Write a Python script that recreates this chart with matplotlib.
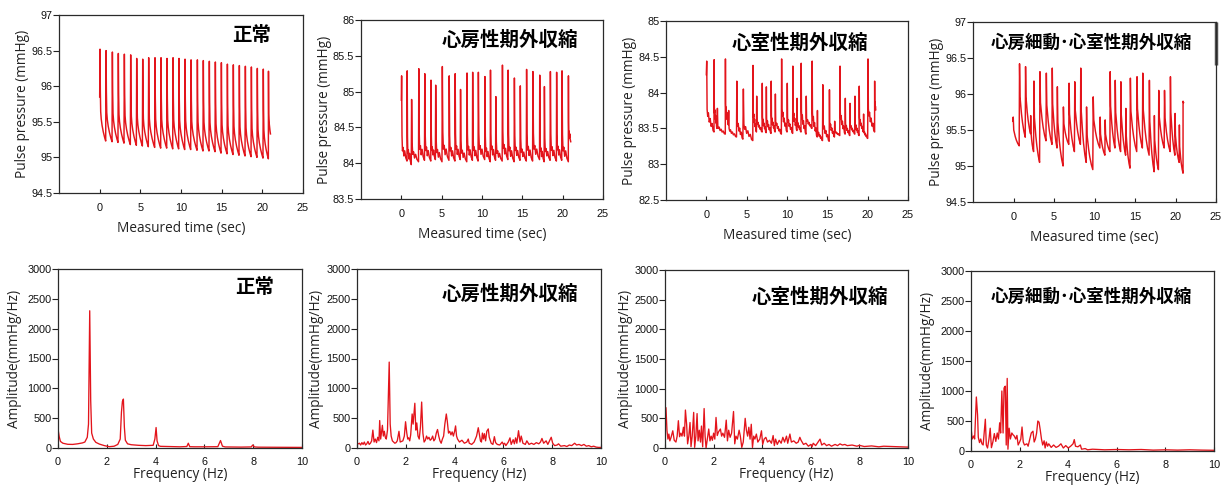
import matplotlib
matplotlib.use("Agg")
import matplotlib.pyplot as plt
from matplotlib.ticker import FuncFormatter

# ---------------- data ----------------
titles = ["正常", "心房性期外収縮", "心室性期外収縮", "心房細動･心室性期外収縮"]

# Normal: beat onset times, peak values, trough values (at onset)
n_t = [0.0, 0.74, 1.52, 2.25, 2.99, 3.77, 4.51, 5.25, 5.98, 6.76, 7.50, 8.24, 8.98, 9.71,
       10.45, 11.19, 11.97, 12.70, 13.44, 14.18, 14.92, 15.66, 16.39, 17.13, 17.87, 18.61,
       19.34, 20.08, 20.74]
n_peak = [96.52, 96.50, 96.48, 96.46, 96.45, 96.44, 96.39, 96.38, 96.40, 96.40, 96.40, 96.39,
          96.40, 96.39, 96.38, 96.37, 96.37, 96.36, 96.35, 96.34, 96.33, 96.31, 96.30, 96.29,
          96.28, 96.27, 96.25, 96.24, 96.21]
n_trough = [95.85, 95.23, 95.22, 95.21, 95.20, 95.18, 95.17, 95.16, 95.15, 95.14, 95.13, 95.13,
            95.12, 95.12, 95.11, 95.11, 95.10, 95.09, 95.09, 95.08, 95.06, 95.05, 95.04, 95.03,
            95.02, 95.01, 95.00, 94.99, 94.98]
n_end = (21.0, 95.33)

# Atrial premature contraction
a_t = [0.0, 0.70, 1.23, 2.13, 2.87, 3.65, 4.22, 5.04, 5.90, 6.64, 7.30, 8.11, 8.81, 9.51,
       10.33, 11.02, 11.68, 12.50, 13.20, 13.98, 14.71, 15.49, 16.27, 17.13, 17.70, 18.44,
       19.22, 19.88, 20.70]
a_peak = [85.22, 85.29, 84.89, 85.32, 85.25, 85.16, 85.09, 85.35, 85.22, 85.25, 85.03, 85.26,
          85.27, 85.27, 85.21, 85.30, 84.93, 85.37, 85.30, 85.19, 85.08, 85.31, 85.28, 85.23,
          85.07, 85.28, 85.27, 85.29, 85.22]
a_trough = [84.88, 84.03, 83.98, 84.02, 84.04, 84.03, 84.05, 84.02, 84.04, 84.03, 84.05, 84.02,
            84.04, 84.03, 84.05, 84.02, 84.04, 84.03, 84.05, 84.02, 84.04, 84.03, 84.03, 84.05,
            84.02, 84.04, 84.03, 84.04, 84.02]
a_end = (21.0, 84.30)

# Ventricular premature contraction
v_t = [0.0, 0.95, 1.32, 2.35, 2.72, 3.74, 4.53, 5.76, 6.21, 6.91, 7.41, 8.02, 8.52, 9.30,
       10.0, 10.7, 11.23, 11.73, 12.35, 13.09, 13.74, 14.40, 15.23, 15.88, 16.54, 17.20,
       17.78, 18.40, 18.93, 19.47, 20.0, 20.86]
v_peak = [84.44, 84.46, 83.78, 84.47, 83.75, 84.16, 84.05, 84.38, 83.95, 84.13, 84.08, 84.16,
          83.98, 84.47, 84.13, 84.37, 83.92, 84.41, 83.95, 84.44, 83.75, 84.11, 84.04, 83.60,
          84.37, 83.92, 83.85, 83.95, 84.09, 83.70, 84.47, 84.16]
v_trough = [84.25, 83.45, 83.50, 83.42, 83.55, 83.38, 83.35, 83.33, 83.45, 83.45, 83.44, 83.43,
            83.45, 83.42, 83.45, 83.43, 83.47, 83.45, 83.42, 83.50, 83.38, 83.33, 83.32, 83.38,
            83.40, 83.42, 83.40, 83.42, 83.40, 83.45, 83.36, 83.45]
v_end = (21.0, 83.76)

# Atrial fibrillation + ventricular premature contraction
f_t = [-0.08, 0.70, 1.45, 2.10, 2.48, 3.22, 4.01, 4.75, 5.37, 6.12, 6.82, 7.52, 8.26, 8.97,
       9.79, 10.66, 11.28, 11.90, 12.52, 13.22, 13.84, 14.38, 15.21, 15.91, 16.74, 17.36,
       17.89, 18.60, 19.34, 19.92, 20.45, 20.93]
f_peak = [95.68, 96.42, 96.38, 95.70, 96.18, 96.31, 96.29, 96.36, 96.10, 95.82, 96.15, 96.17,
          96.36, 95.82, 95.96, 95.68, 95.64, 96.31, 96.19, 96.17, 95.80, 96.22, 96.24, 96.29,
          96.19, 95.70, 96.05, 96.05, 96.24, 95.73, 95.57, 95.90]
f_trough = [95.62, 95.28, 95.40, 95.45, 95.20, 95.05, 95.35, 95.30, 95.25, 95.00, 95.30, 95.20,
            95.30, 95.05, 94.95, 95.25, 95.15, 95.20, 95.25, 95.20, 95.15, 94.97, 95.20, 95.25,
            95.15, 94.92, 94.95, 95.25, 95.20, 95.15, 95.05, 94.90]
f_end = (21.0, 95.88)

# Spectra (frequency Hz, amplitude mmHg/Hz)
s1_f = [0.0, 0.05, 0.1, 0.2, 0.4, 0.6, 0.8, 1.0, 1.1, 1.2, 1.25, 1.30, 1.34, 1.38, 1.45, 1.55,
        1.7, 1.9, 2.1, 2.3, 2.45, 2.55, 2.6, 2.64, 2.68, 2.72, 2.76, 2.85, 3.0, 3.3, 3.6, 3.9,
        3.97, 4.02, 4.06, 4.12, 4.2, 4.5, 5.0, 5.28, 5.34, 5.4, 5.6, 6.0, 6.55, 6.66, 6.74,
        6.85, 7.5, 7.92, 7.98, 8.05, 8.2, 9.0, 10.0]
s1_a = [320, 190, 110, 80, 62, 60, 70, 85, 100, 180, 400, 2300, 800, 250, 150, 95,
        65, 40, 22, 30, 60, 150, 600, 780, 820, 350, 130, 70, 55, 45, 40, 45,
        150, 343, 120, 40, 28, 25, 20, 25, 80, 22, 20, 20, 22, 125, 30,
        18, 15, 18, 50, 18, 14, 12, 10]

s2_f = [0.0, 0.1, 0.15, 0.2, 0.25, 0.3, 0.35, 0.4, 0.45, 0.5, 0.55, 0.6, 0.65, 0.7, 0.75, 0.8,
        0.85, 0.9, 0.93, 0.97, 1.0, 1.04, 1.08, 1.12, 1.16, 1.2, 1.25, 1.32, 1.36, 1.4, 1.45,
        1.5, 1.55, 1.6, 1.65, 1.72, 1.77, 1.82, 1.88, 1.94, 1.99, 2.04, 2.08, 2.12, 2.16, 2.2,
        2.26, 2.3, 2.37, 2.41, 2.45, 2.5, 2.55, 2.6, 2.65, 2.7, 2.75, 2.8, 2.85, 2.9, 2.95, 3.0,
        3.05, 3.1, 3.15, 3.2, 3.25, 3.3, 3.35, 3.4, 3.45, 3.5, 3.55, 3.6, 3.66, 3.7, 3.75, 3.8,
        3.85, 3.9, 3.95, 4.0, 4.04, 4.08, 4.12, 4.2, 4.3, 4.4, 4.5, 4.56, 4.6, 4.7, 4.8, 4.9,
        4.97, 5.02, 5.06, 5.1, 5.14, 5.18, 5.22, 5.27, 5.32, 5.38, 5.42, 5.5, 5.57, 5.63, 5.68,
        5.75, 5.85, 5.95, 6.0, 6.05, 6.1, 6.2, 6.27, 6.32, 6.4, 6.45, 6.5, 6.55, 6.62, 6.68,
        6.73, 6.8, 6.9, 6.96, 7.05, 7.15, 7.25, 7.35, 7.45, 7.52, 7.58, 7.65, 7.75, 7.82, 7.9,
        7.96, 8.02, 8.1, 8.2, 8.26, 8.35, 8.5, 8.6, 8.7, 8.8, 8.92, 9.0, 9.1, 9.2, 9.3, 9.4,
        9.5, 9.6, 9.7, 9.8, 9.9, 10.0]
s2_a = [60, 80, 50, 90, 60, 100, 50, 70, 110, 60, 80, 120, 300, 100, 150, 90,
        180, 120, 460, 150, 250, 380, 200, 280, 180, 150, 300, 1440, 400, 200, 120,
        100, 80, 90, 120, 280, 100, 110, 120, 200, 440, 250, 150, 170, 120, 220,
        570, 400, 750, 300, 420, 200, 150, 350, 770, 250, 100, 130, 200, 150, 180, 130,
        150, 200, 120, 150, 250, 310, 200, 120, 80, 150, 200, 400, 570, 450, 250, 280,
        220, 270, 200, 280, 370, 200, 150, 100, 130, 80, 100, 150, 80, 60, 100, 200,
        340, 220, 120, 100, 250, 150, 240, 120, 280, 320, 180, 80, 60, 190, 90,
        60, 50, 100, 60, 80, 40, 100, 170, 60, 140, 70, 170, 80, 290, 100,
        200, 80, 60, 120, 60, 80, 60, 90, 70, 100, 160, 80, 120, 60, 130,
        180, 80, 40, 50, 70, 30, 40, 25, 50, 40, 80, 50, 60, 40, 60, 30,
        40, 20, 30, 15, 10, 10]

s3_f = [0.0, 0.04, 0.08, 0.12, 0.16, 0.2, 0.25, 0.32, 0.38, 0.45, 0.5, 0.55, 0.6, 0.65, 0.7,
        0.76, 0.8, 0.84, 0.89, 0.93, 0.98, 1.03, 1.07, 1.12, 1.18, 1.22, 1.27, 1.32, 1.36, 1.41,
        1.46, 1.5, 1.55, 1.61, 1.65, 1.69, 1.74, 1.8, 1.85, 1.9, 1.95, 2.0, 2.05, 2.1, 2.15, 2.2,
        2.28, 2.33, 2.38, 2.45, 2.52, 2.57, 2.62, 2.68, 2.74, 2.82, 2.87, 2.92, 2.98, 3.05, 3.1,
        3.16, 3.22, 3.3, 3.35, 3.4, 3.45, 3.5, 3.55, 3.6, 3.65, 3.7, 3.76, 3.82, 3.9, 3.97, 4.02,
        4.08, 4.15, 4.22, 4.3, 4.38, 4.45, 4.5, 4.55, 4.62, 4.7, 4.78, 4.85, 4.92, 5.0, 5.05,
        5.14, 5.2, 5.3, 5.4, 5.48, 5.55, 5.6, 5.7, 5.8, 5.9, 6.0, 6.05, 6.1, 6.2, 6.3, 6.38,
        6.45, 6.55, 6.65, 6.75, 6.85, 7.0, 7.1, 7.2, 7.3, 7.4, 7.5, 7.7, 7.9, 8.0, 8.2, 8.5,
        8.8, 9.0, 9.3, 9.6, 10.0]
s3_a = [250, 680, 300, 150, 235, 120, 180, 290, 130, 100, 200, 460, 190, 250, 200,
        350, 200, 640, 400, 70, 200, 430, 22, 200, 600, 11, 200, 580, 120, 300,
        100, 370, 20, 665, 200, 0, 150, 320, 120, 200, 130, 250, 150, 515, 210, 270,
        320, 200, 250, 180, 470, 120, 300, 180, 250, 615, 70, 200, 150, 300, 200,
        10, 100, 500, 300, 200, 350, 150, 400, 10, 200, 150, 235, 100, 150, 290, 60,
        150, 180, 100, 130, 80, 210, 40, 150, 60, 130, 80, 180, 100, 200, 80,
        235, 100, 120, 80, 100, 180, 130, 60, 80, 30, 60, 20, 80, 40, 100, 150,
        50, 80, 40, 60, 30, 60, 40, 70, 50, 60, 40, 50, 30, 45, 25, 35,
        20, 30, 25, 20, 15]

s4_f = [0.0, 0.05, 0.11, 0.15, 0.22, 0.27, 0.3, 0.35, 0.4, 0.45, 0.5, 0.59, 0.63, 0.68, 0.74,
        0.79, 0.84, 0.9, 0.96, 1.02, 1.08, 1.13, 1.18, 1.22, 1.27, 1.32, 1.36, 1.41, 1.45, 1.49,
        1.52, 1.57, 1.62, 1.68, 1.73, 1.78, 1.84, 1.89, 1.94, 2.0, 2.05, 2.1, 2.15, 2.2, 2.3,
        2.35, 2.42, 2.48, 2.55, 2.6, 2.65, 2.7, 2.75, 2.8, 2.85, 2.9, 2.95, 3.01, 3.05, 3.1,
        3.15, 3.2, 3.3, 3.4, 3.5, 3.6, 3.7, 3.8, 3.9, 4.0, 4.1, 4.2, 4.25, 4.3, 4.4, 4.5, 4.55,
        4.7, 4.8, 5.0, 5.5, 6.0, 6.5, 7.0, 7.5, 8.0, 8.5, 9.0, 9.5, 10.0]
s4_a = [390, 200, 250, 200, 900, 600, 230, 140, 200, 120, 100, 530, 100, 50, 200,
        380, 55, 150, 290, 160, 300, 200, 470, 300, 1000, 300, 1050, 1080, 100, 1210,
        30, 380, 200, 300, 270, 250, 200, 260, 100, 150, 200, 400, 150, 100, 120,
        80, 200, 300, 330, 150, 200, 300, 500, 480, 350, 200, 100, 170, 50, 150,
        80, 120, 60, 100, 60, 80, 120, 50, 90, 50, 80, 120, 190, 80, 70, 100, 30,
        40, 20, 30, 20, 25, 20, 25, 15, 20, 15, 20, 15, 12]

top_yl = [(94.5, 97.0), (83.5, 86.0), (82.5, 85.0), (94.5, 97.0)]

# ---------------- layout ----------------
W, H = 1231, 488
RED = "#e3141b"
NUMF = "Liberation Sans"
LABF = "Open Sans"
JPF = ["Noto Sans CJK JP", "DejaVu Sans"]

fig = plt.figure(figsize=(W / 100, H / 100), dpi=100)


def px_axes(x0, y0, x1, y1):
    return fig.add_axes([x0 / W, 1 - y1 / H, (x1 - x0) / W, (y1 - y0) / H])


top_boxes = [(59, 15, 303, 193), (361, 20, 603, 199), (666, 21, 908, 200), (973, 22, 1216, 202)]
bot_boxes = [(58, 269, 302, 448), (357, 269, 601, 448), (665, 270, 908, 448), (971, 271, 1214, 451)]
top_title_pos = [(0.79, 0.885), (0.616, 0.885), (0.554, 0.877), (0.486, 0.883)]
bot_title_pos = [(0.807, 0.894), (0.627, 0.86), (0.638, 0.848), (0.494, 0.856)]
title_sizes = [14, 14, 14, 12.6]
bot_ylabelpad = [4, 1.5, 0.5, 4]

# waveform shapes (fraction of beat interval, fraction of amplitude above next trough)
shapes = [
    ([0.0, 0.06, 0.11, 0.17, 0.26, 0.40, 0.60, 0.82, 1.0], [None, 1.0, 0.55, 0.32, 0.24, 0.17, 0.10, 0.04, 0.0]),
    ([0.0, 0.05, 0.12, 0.20, 0.32, 0.45, 0.60, 0.78, 1.0], [None, 1.0, 0.30, 0.12, 0.16, 0.06, 0.12, 0.04, 0.0]),
    ([0.0, 0.05, 0.10, 0.18, 0.27, 0.38, 0.50, 0.62, 0.75, 0.88, 1.0],
     [None, 1.0, 0.32, 0.22, 0.27, 0.14, 0.19, 0.08, 0.12, 0.02, 0.0]),
    ([0.0, 0.06, 0.14, 0.24, 0.38, 0.55, 0.78, 1.0], [None, 1.0, 0.55, 0.45, 0.32, 0.20, 0.08, 0.0]),
]
waves = [(n_t, n_peak, n_trough, n_end), (a_t, a_peak, a_trough, a_end),
         (v_t, v_peak, v_trough, v_end), (f_t, f_peak, f_trough, f_end)]


def build(t, pk, tr, end, shape):
    fs, fv = shape
    xs, ys = [], []
    for i in range(len(t)):
        t0 = t[i]
        if i + 1 < len(t):
            t1, lo = t[i + 1], tr[i + 1]
        else:
            t1, lo = end
        for a, b in zip(fs, fv):
            xs.append(t0 + a * (t1 - t0))
            ys.append(tr[i] if b is None else lo + b * (pk[i] - lo))
    return xs, ys


def style(ax, xpad):
    for s in ax.spines.values():
        s.set_color("#2a2a2a")
        s.set_linewidth(0.9)
    ax.tick_params(width=0.8, color="#222222", labelsize=7.8, labelcolor="#111111")
    ax.tick_params(axis="x", direction="in", length=3, pad=xpad)
    ax.tick_params(axis="y", direction="out", length=4, pad=0.8)
    for lab in ax.get_xticklabels() + ax.get_yticklabels():
        lab.set_fontfamily(NUMF)


gfmt = FuncFormatter(lambda v, p: "%g" % v)

for k in range(4):
    ax = px_axes(*top_boxes[k])
    xs, ys = build(*waves[k], shapes[k])
    ax.plot(xs, ys, color=RED, lw=1.05)
    ax.set_xlim(-5, 25)
    ax.set_ylim(*top_yl[k])
    ax.set_xticks([0, 5, 10, 15, 20, 25])
    lo, hi = top_yl[k]
    ax.set_yticks([lo + 0.5 * j for j in range(6)])
    ax.yaxis.set_major_formatter(gfmt)
    style(ax, 7)
    ax.set_xlabel("Measured time (sec)", fontfamily=LABF, fontsize=9.8, color="#222222", labelpad=6)
    ax.set_ylabel("Pulse pressure (mmHg)", fontfamily=LABF, fontsize=9.8, color="#222222", labelpad=0.5)
    tx, ty = top_title_pos[k]
    ax.text(tx, ty, titles[k], transform=ax.transAxes, ha="center", va="center",
            fontfamily=JPF, fontsize=title_sizes[k], fontweight="bold", color="black")
    if k == 3:
        ax.plot([1, 1], [1, 0.76], transform=ax.transAxes, color="#555555", lw=2.5,
                clip_on=False, solid_capstyle="butt")

specs = [(s1_f, s1_a), (s2_f, s2_a), (s3_f, s3_a), (s4_f, s4_a)]
for k in range(4):
    ax = px_axes(*bot_boxes[k])
    ax.plot(specs[k][0], specs[k][1], color=RED, lw=0.95)
    ax.set_xlim(0, 10)
    ax.set_ylim(0, 3000)
    ax.set_xticks([0, 2, 4, 6, 8, 10])
    ax.set_yticks([0, 500, 1000, 1500, 2000, 2500, 3000])
    style(ax, 6.5)
    ax.set_xlabel("Frequency (Hz)", fontfamily=LABF, fontsize=9.8, color="#222222", labelpad=0)
    ax.set_ylabel("Amplitude(mmHg/Hz)", fontfamily=LABF, fontsize=9.8, color="#222222",
                  labelpad=bot_ylabelpad[k])
    tx, ty = bot_title_pos[k]
    ax.text(tx, ty, titles[k], transform=ax.transAxes, ha="center", va="center",
            fontfamily=JPF, fontsize=title_sizes[k], fontweight="bold", color="black")

fig.savefig("out.png", dpi=100, facecolor="white")
